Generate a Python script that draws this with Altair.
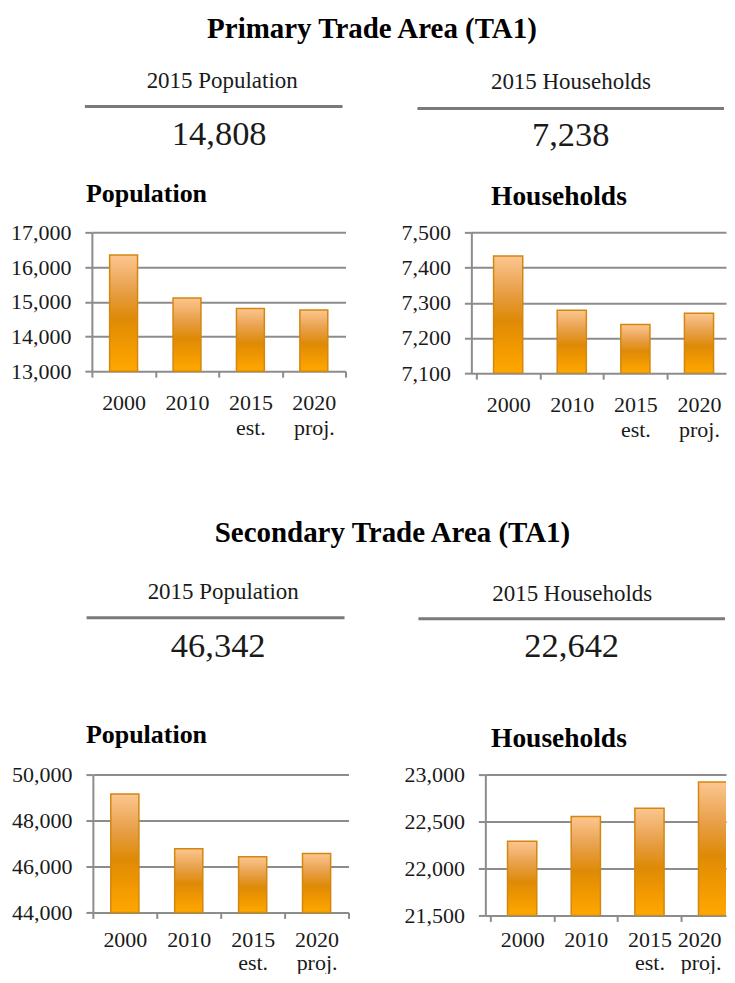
import altair as alt
import pandas as pd

# ---------------- data ----------------
years = ["2000", "2010", "2015 est.", "2020 proj."]
ta1_population = [16350, 15110, 14808, 14760]
ta1_households = [7433, 7279, 7238, 7270]
ta2_population = [49160, 46770, 46420, 46570]
ta2_households = [22290, 22553, 22642, 22920]

ta1_pop_ticks = [13000, 14000, 15000, 16000, 17000]
ta1_hh_ticks = [7100, 7200, 7300, 7400, 7500]
ta2_pop_ticks = [44000, 46000, 48000, 50000]
ta2_hh_ticks = [21500, 22000, 22500, 23000]

section_titles = ["Primary Trade Area (TA1)", "Secondary Trade Area (TA1)"]
kpi_labels = ["2015 Population", "2015 Households"]
ta1_kpi_values = ["14,808", "7,238"]
ta2_kpi_values = ["46,342", "22,642"]
chart_titles = ["Population", "Households"]

# ---------------- styles ----------------
FONT = "Liberation Serif"
GRID = "#8c8c8c"
one = pd.DataFrame({"k": [0]})

bar_fill = alt.Gradient(
    gradient="linear",
    stops=[
        alt.GradientStop(color="#FCC690", offset=0),
        alt.GradientStop(color="#E8A04A", offset=0.3),
        alt.GradientStop(color="#DE8A06", offset=0.55),
        alt.GradientStop(color="#F29A00", offset=0.8),
        alt.GradientStop(color="#FFA800", offset=1),
    ],
    x1=0, x2=0, y1=0, y2=1,
)


def spacer(w, h):
    return alt.Chart(one).mark_point(opacity=0, size=1).encode(
        x=alt.value(2), y=alt.value(2)
    ).properties(width=w, height=h)


def text_layer(txt, x, y, size, bold=False, align="center", color="#1a1a1a"):
    return alt.Chart(one).mark_text(
        text=txt, font=FONT, fontSize=size, fontWeight="bold" if bold else "normal",
        align=align, baseline="alphabetic", color=color,
    ).encode(x=alt.value(x), y=alt.value(y))


def rule_layer(x1, x2, y):
    return alt.Chart(one).mark_rule(color="#7a7a7a", strokeWidth=3).encode(
        x=alt.value(x1), x2=alt.value(x2), y=alt.value(y)
    )


def y_encoding(ticks):
    return alt.Y(
        "value:Q",
        scale=alt.Scale(domain=[ticks[0], ticks[-1]], nice=False, zero=False),
        axis=alt.Axis(
            title=None, values=ticks, format=",d", grid=True,
            gridColor=GRID, gridWidth=2, domainColor=GRID, domainWidth=2,
            tickColor=GRID, tickWidth=2, tickSize=7,
            labelFont=FONT, labelFontSize=22, labelColor="#1a1a1a",
            labelPadding=14,
        ),
    )


def bar_chart(values, ticks, w, h, line_height=25, label_pad=15):
    df = pd.DataFrame({"year": years, "value": values})
    return alt.Chart(df).mark_bar(
        color=bar_fill, stroke="#D3870F", strokeWidth=1.5,
        width=alt.RelativeBandSize(0.44),
    ).encode(
        x=alt.X(
            "year:N", sort=years,
            scale=alt.Scale(paddingInner=0, paddingOuter=0),
            axis=alt.Axis(
                title=None, labelAngle=0, tickBand="extent", tickSize=6,
                tickColor=GRID, tickWidth=2, domain=False,
                labelFont=FONT, labelFontSize=22, labelColor="#1a1a1a",
                labelPadding=label_pad, labelLineHeight=line_height,
                labelExpr="split(datum.label, ' ')",
            ),
        ),
        y=y_encoding(ticks),
        y2=alt.datum(ticks[0]),
    ).properties(width=w, height=h)


def cut_bar_chart(values, ticks, w, h, step, line_height=25, label_pad=15,
                  last_offset=None):
    """Same chart, but the plot is cut at the page edge inside the last slot."""
    n = len(years)
    df = pd.DataFrame({"year": years, "value": values,
                       "slot": [i + 0.5 for i in range(n)]})
    names = "[" + ",".join("'%s'" % y for y in years) + "]"
    half = "datum.value % 1 !== 0"
    last = "datum.value === %s" % (n - 0.5)
    axis_kw = dict(
        title=None, values=[i * 0.5 for i in range(2 * n)],
        grid=False, domain=False, labelAngle=0,
        tickSize=6, tickColor=GRID, tickWidth=2,
        tickOpacity={"condition": {"test": half, "value": 0}, "value": 1},
        labelFont=FONT, labelFontSize=22, labelColor="#1a1a1a",
        labelPadding=label_pad, labelLineHeight=line_height,
        labelFlush=False, labelOverlap=False,
        labelExpr="datum.value % 1 === 0 ? '' : split(" + names
                  + "[floor(datum.value)], ' ')",
    )
    if last_offset is not None:
        axis_kw["labelAlign"] = {"condition": {"test": last, "value": "right"},
                                 "value": "center"}
        axis_kw["labelOffset"] = {"condition": {"test": last, "value": last_offset},
                                  "value": 0}
    return alt.Chart(df).mark_bar(
        color=bar_fill, stroke="#D3870F", strokeWidth=1.5, width=0.44 * step,
        clip=True,
    ).encode(
        x=alt.X(
            "slot:Q",
            scale=alt.Scale(domain=[0, w / step], nice=False, zero=False),
            axis=alt.Axis(**axis_kw),
        ),
        y=y_encoding(ticks),
        y2=alt.datum(ticks[0]),
    ).properties(width=w, height=h)


# ---------------- header 1 ----------------
header1 = alt.layer(
    text_layer(section_titles[0], 364.5, 29, 29, bold=True, color="#000"),
    text_layer(kpi_labels[0], 214.5, 79, 23),
    rule_layer(77, 335, 98),
    text_layer(ta1_kpi_values[0], 211.5, 137, 34.5),
    text_layer(kpi_labels[1], 563.7, 80, 23),
    rule_layer(410, 717, 100),
    text_layer(ta1_kpi_values[1], 563.5, 138, 34.5),
    text_layer(chart_titles[0], 78, 193.7, 26, bold=True, align="left", color="#000"),
    text_layer(chart_titles[1], 483.7, 197, 27.5, bold=True, align="left", color="#000"),
).properties(width=719, height=213)

row1 = alt.hconcat(
    spacer(84, 10),
    bar_chart(ta1_population, ta1_pop_ticks, 254, 139),
    spacer(126, 10),
    cut_bar_chart(ta1_households, ta1_hh_ticks, 255, 141, step=66.3),
    spacing=0, bounds="flush",
)

# ---------------- header 2 ----------------
header2 = alt.layer(
    text_layer(section_titles[1], 385, 102, 29, bold=True, color="#000"),
    text_layer(kpi_labels[0], 215.5, 159, 23),
    rule_layer(78.7, 337, 178),
    text_layer(ta2_kpi_values[0], 210.5, 217, 34.5),
    text_layer(kpi_labels[1], 565, 160.7, 23),
    rule_layer(411, 718, 179),
    text_layer(ta2_kpi_values[1], 564.5, 217, 34.5),
    text_layer(chart_titles[0], 78, 303, 26, bold=True, align="left", color="#000"),
    text_layer(chart_titles[1], 483.7, 307, 27.5, bold=True, align="left", color="#000"),
).properties(width=719, height=324)

row2 = alt.hconcat(
    spacer(85, 10),
    bar_chart(ta2_population, ta2_pop_ticks, 256, 138, line_height=23, label_pad=11),
    spacer(137, 10),
    cut_bar_chart(ta2_households, ta2_hh_ticks, 241, 141, step=66.5,
                  line_height=23, label_pad=8, last_offset=8),
    spacing=0, bounds="flush",
)

chart = alt.vconcat(
    header1, row1, header2, row2, spacing=0
).properties(padding=0).configure_view(strokeWidth=0)

chart.save("out.html", embed_options={"renderer": "svg", "actions": False})
